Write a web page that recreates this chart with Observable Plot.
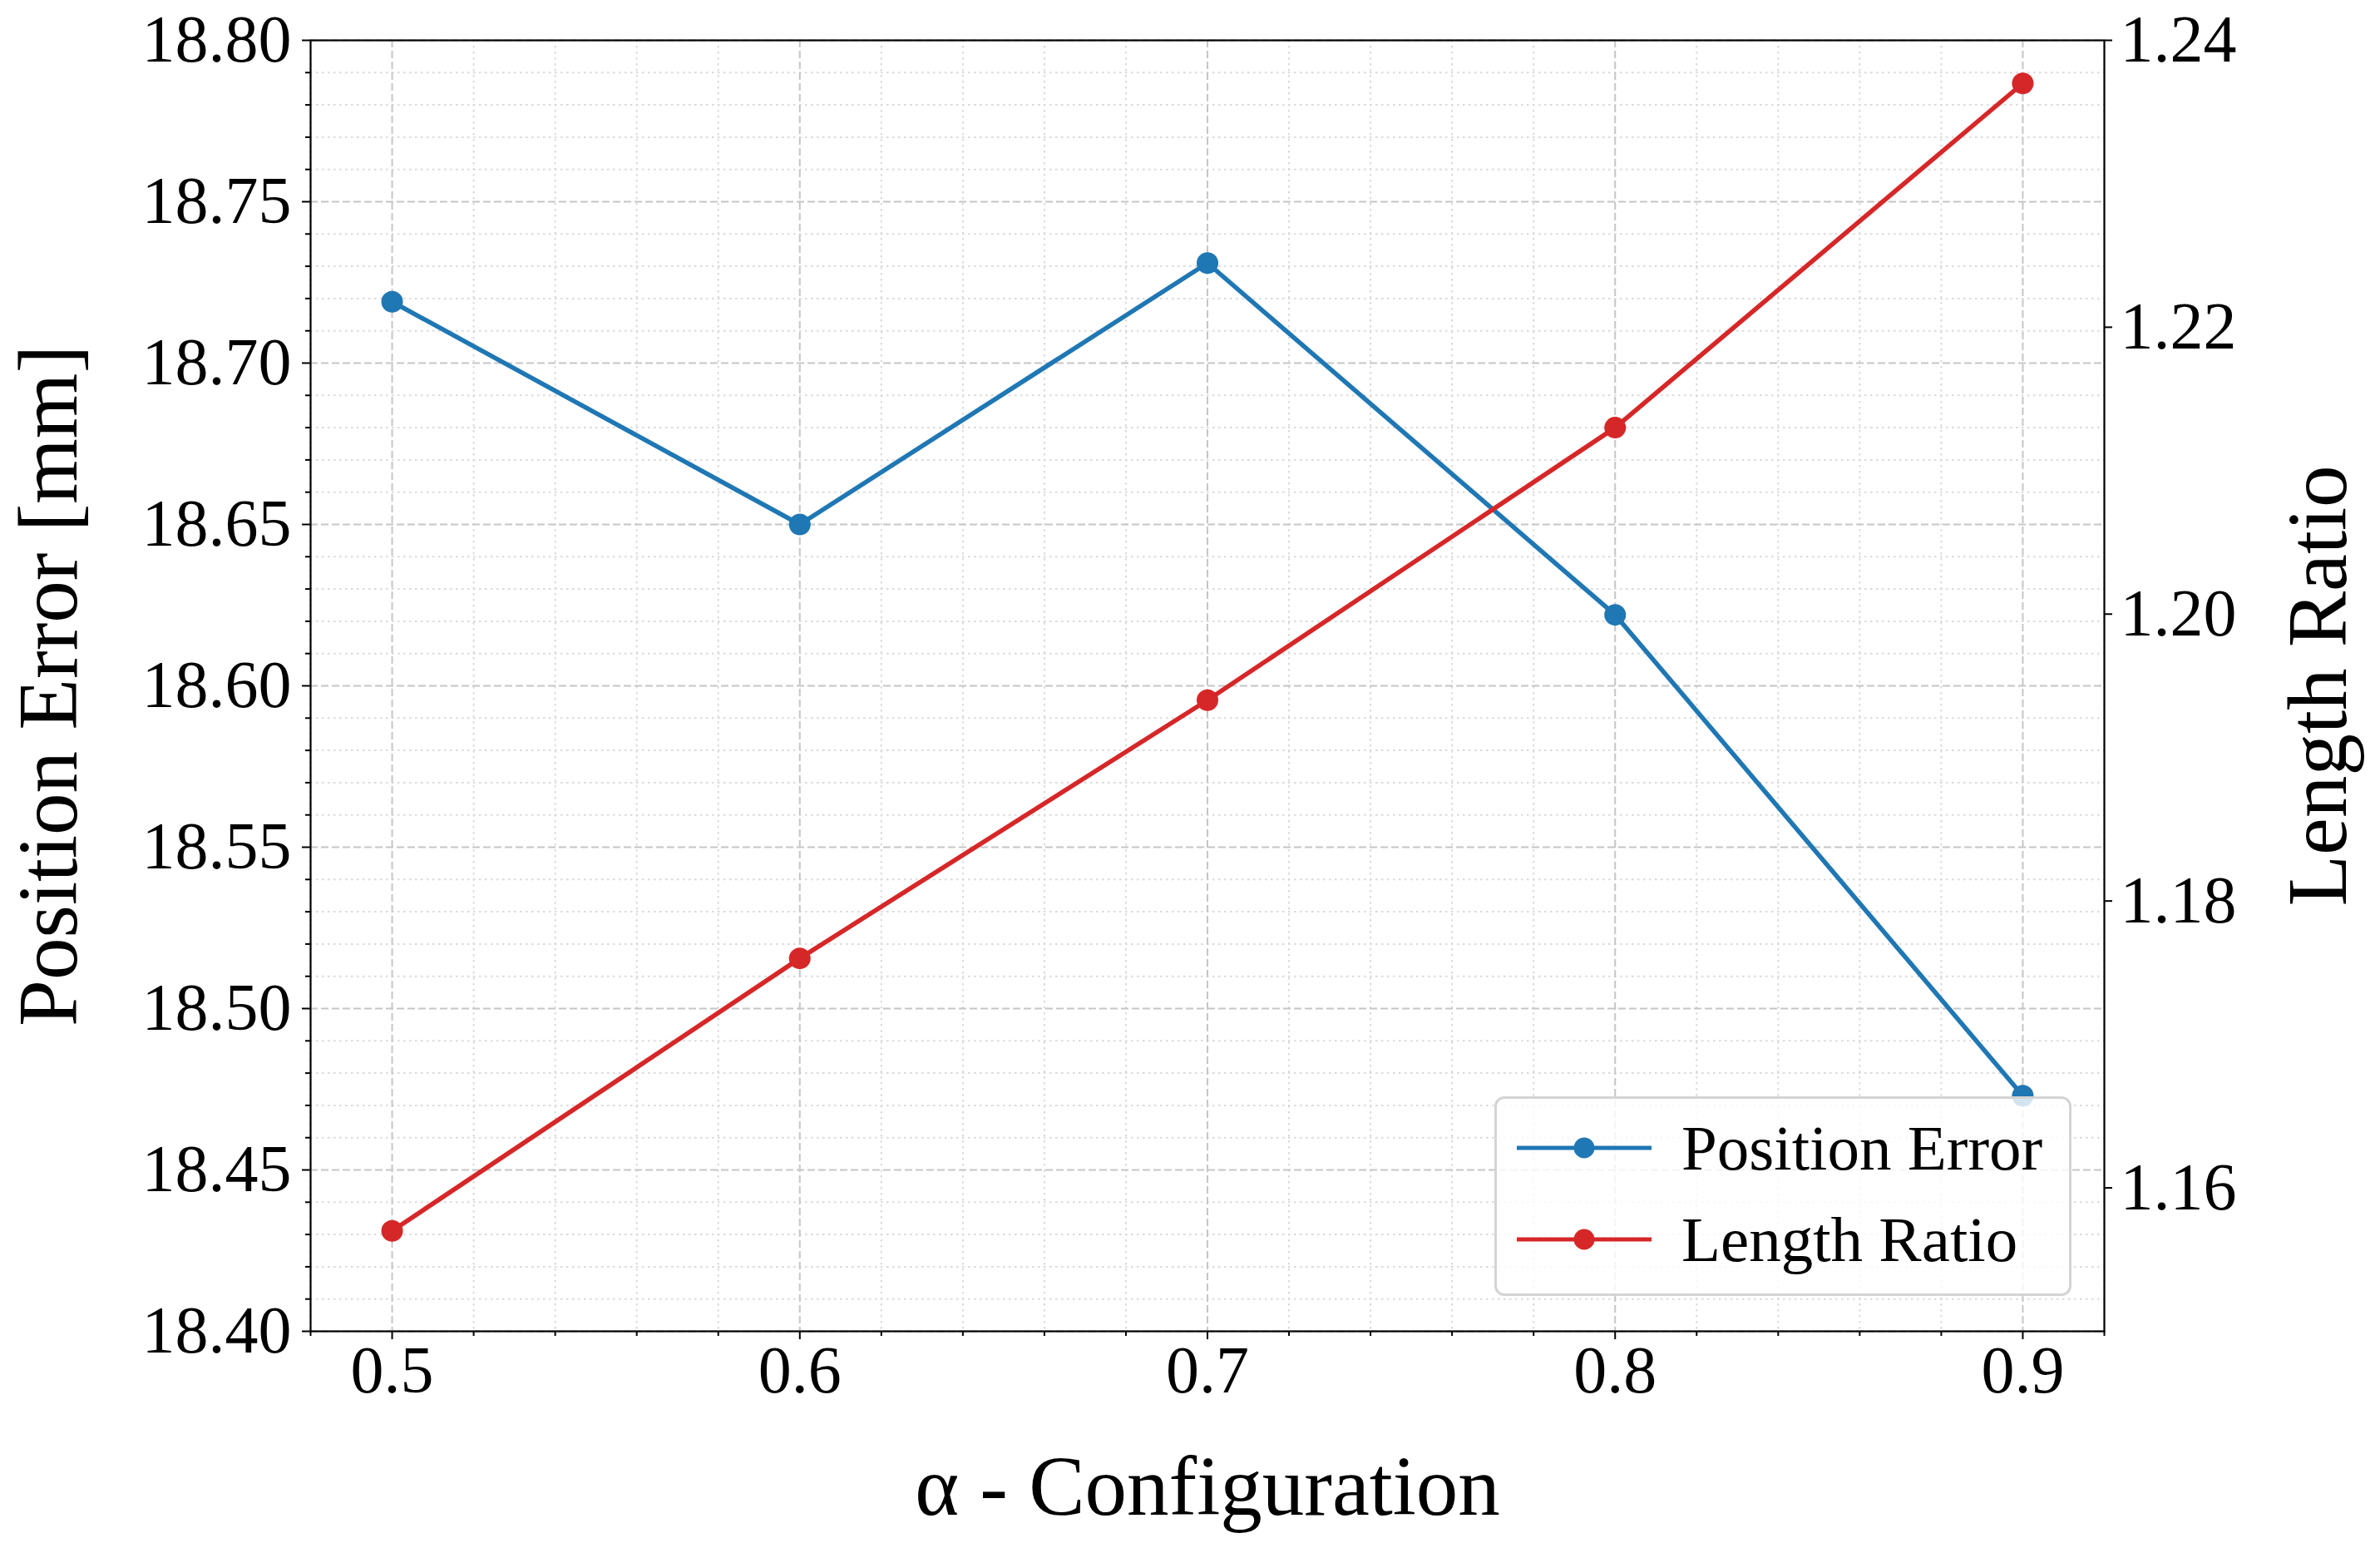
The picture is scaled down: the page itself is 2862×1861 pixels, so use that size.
<!DOCTYPE html>
<html><head><meta charset="utf-8">
<script src="https://cdn.jsdelivr.net/npm/d3@7"></script>
<script src="https://cdn.jsdelivr.net/npm/@observablehq/plot@0.6"></script>
<style>
html,body{margin:0;padding:0;background:#fff;overflow:hidden;}
#wrap{position:relative;width:2862px;height:1861px;}
.legend{position:absolute;left:1797px;top:1318px;width:688px;height:234px;border:3px solid #d4d4d4;border-radius:12px;background:rgba(255,255,255,0.8);font-family:"Liberation Serif","Times New Roman",serif;font-size:77px;color:#000;}
.legend .item{position:absolute;left:0;height:0;}
.legend svg{position:absolute;left:24px;top:-20px;overflow:visible;}
.legend span{position:absolute;left:222px;top:0;transform:translateY(-50%);white-space:nowrap;line-height:1;}
</style>
</head><body>
<div id="wrap"></div>
<script>
// ---- data ----
const alpha = [0.5, 0.6, 0.7, 0.8, 0.9];
const positionError = [18.719, 18.650, 18.731, 18.622, 18.473];
const lengthRatio = [1.157, 1.176, 1.194, 1.213, 1.237];
const xTicks = [0.5, 0.6, 0.7, 0.8, 0.9];
const leftTicks = [18.40, 18.45, 18.50, 18.55, 18.60, 18.65, 18.70, 18.75, 18.80];
const rightTicks = [1.16, 1.18, 1.20, 1.22, 1.24];
const seriesNames = ["Position Error", "Length Ratio"];
const seriesColors = ["#1f77b4", "#d62728"];
const xTitle = "α - Configuration";
const leftTitle = "Position Error [mm]";
const rightTitle = "Length Ratio";

const xDomain = [0.48, 0.92];
const leftDomain = [18.40, 18.80];
const rightDomain = [1.15, 1.24];

const toLeft = v => leftDomain[0] + (v - rightDomain[0]) / (rightDomain[1] - rightDomain[0]) * (leftDomain[1] - leftDomain[0]);
const fromLeft = v => rightDomain[0] + (v - leftDomain[0]) / (leftDomain[1] - leftDomain[0]) * (rightDomain[1] - rightDomain[0]);

const leftMinor = d3.range(0, 41).filter(i => i % 5 !== 0).map(i => leftDomain[0] + i * 0.01);
const xMinor = d3.range(0, 23).filter(i => (i - 1) % 5 !== 0).map(i => xDomain[0] + i * 0.02);

const blue = alpha.map((a, i) => ({a, v: positionError[i]}));
const red = alpha.map((a, i) => ({a, v: toLeft(lengthRatio[i])}));

const font = "Liberation Serif, Times New Roman, serif";

const chart = Plot.plot({
  width: 2862,
  height: 1861,
  marginLeft: 373,
  marginRight: 332,
  marginTop: 48,
  marginBottom: 261,
  style: {fontFamily: font, background: "white", color: "black"},
  x: {domain: xDomain},
  y: {domain: leftDomain},
  marks: [
    Plot.gridX(xMinor, {stroke: "#dadada", strokeOpacity: 1, strokeWidth: 2, strokeDasharray: "2.5,4.5"}),
    Plot.gridY(leftMinor, {stroke: "#dadada", strokeOpacity: 1, strokeWidth: 2, strokeDasharray: "2.5,4.5"}),
    Plot.gridX(xTicks, {stroke: "#c6c6c6", strokeOpacity: 1, strokeWidth: 2, strokeDasharray: "9,4"}),
    Plot.gridY(leftTicks, {stroke: "#c6c6c6", strokeOpacity: 1, strokeWidth: 2, strokeDasharray: "9,4"}),
    Plot.line(blue, {x: "a", y: "v", stroke: seriesColors[0], strokeWidth: 5.5}),
    Plot.dot(blue, {x: "a", y: "v", fill: seriesColors[0], r: 13}),
    Plot.line(red, {x: "a", y: "v", stroke: seriesColors[1], strokeWidth: 5.5}),
    Plot.dot(red, {x: "a", y: "v", fill: seriesColors[1], r: 13}),
    Plot.frame({stroke: "black", strokeWidth: 2.2}),
    Plot.axisX(xTicks, {anchor: "bottom", tickSize: 10, tickPadding: 7, strokeWidth: 2, fontSize: 80, tickFormat: d => d.toFixed(1), label: null}),
    Plot.axisX(xMinor, {anchor: "bottom", tickSize: 6, strokeWidth: 2, tickFormat: () => "", label: null}),
    Plot.axisY(leftTicks, {anchor: "left", tickSize: 10, tickPadding: 13, strokeWidth: 2, fontSize: 80, tickFormat: d => d.toFixed(2), label: null}),
    Plot.axisY(leftMinor, {anchor: "left", tickSize: 6, strokeWidth: 2, tickFormat: () => "", label: null}),
    Plot.axisY(rightTicks.map(toLeft), {anchor: "right", tickSize: 9, tickPadding: 10, strokeWidth: 2, fontSize: 80, tickFormat: d => fromLeft(d).toFixed(2), label: null}),
    Plot.text([xTitle], {text: d => d, frameAnchor: "bottom", textAnchor: "middle", lineAnchor: "bottom", dy: 220, fontSize: 101, fill: "black"}),
    Plot.text([leftTitle], {text: d => d, frameAnchor: "left", textAnchor: "middle", lineAnchor: "top", rotate: -90, dx: -353, fontSize: 101, fill: "black"}),
    Plot.text([rightTitle], {text: d => d, frameAnchor: "right", textAnchor: "middle", lineAnchor: "bottom", rotate: -90, dx: 290, fontSize: 101, fill: "black"})
  ]
});

const wrap = document.getElementById("wrap");
wrap.appendChild(chart);

// legend overlay
const legend = document.createElement("div");
legend.className = "legend";
const rowY = [59, 169];
seriesNames.forEach((name, i) => {
  const item = document.createElement("div");
  item.className = "item";
  item.style.top = rowY[i] + "px";
  item.innerHTML = `<svg width="162" height="40" viewBox="0 0 162 40"><line x1="0" y1="20" x2="162" y2="20" stroke="${seriesColors[i]}" stroke-width="5"/><circle cx="81" cy="20" r="12.5" fill="${seriesColors[i]}"/></svg><span>${name}</span>`;
  legend.appendChild(item);
});
wrap.appendChild(legend);
</script>
</body></html>
